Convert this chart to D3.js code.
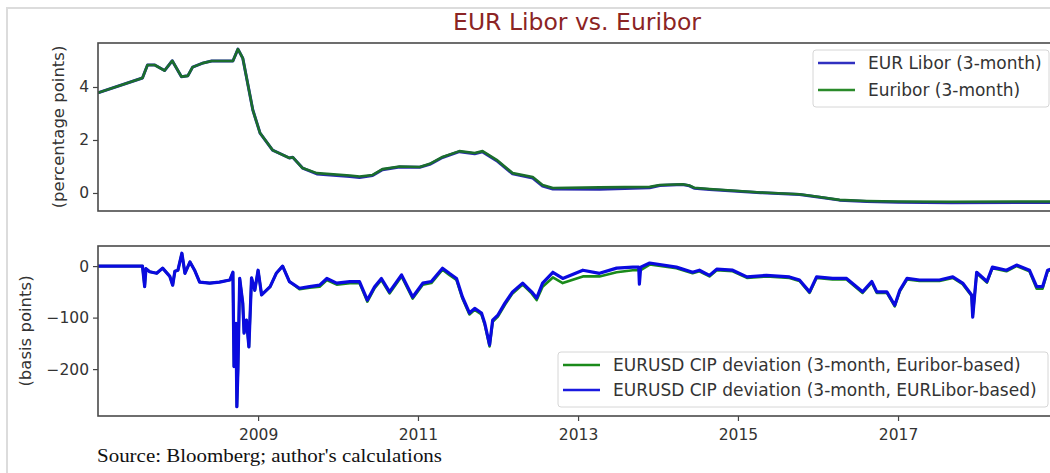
<!DOCTYPE html>
<html>
<head>
<meta charset="utf-8">
<script src="https://cdn.jsdelivr.net/npm/d3@7"></script>
<style>
  body { margin: 0; background: #fff; }
  svg { display: block; font-family: "DejaVu Sans", sans-serif; }
</style>
</head>
<body>
<div id="chart"></div>
<script>
// ---------------------------------------------------------------
// Data
const topDates = ["2007-01-01","2007-07-23","2007-08-15","2007-09-17","2007-11-01","2007-12-06",
  "2008-01-17","2008-02-15","2008-03-08","2008-04-23","2008-06-03","2008-09-08","2008-10-01",
  "2008-10-23","2008-12-08","2009-01-10","2009-03-08","2009-05-24","2009-06-08","2009-07-23",
  "2009-09-26","2010-02-24","2010-04-09","2010-06-08","2010-07-23","2010-10-09","2011-01-09",
  "2011-02-24","2011-04-23","2011-07-09","2011-09-17","2011-10-23","2011-12-26","2012-03-08",
  "2012-06-08","2012-07-23","2012-09-08","2013-04-09","2013-11-24","2014-01-09","2014-04-23",
  "2014-05-24","2014-06-15","2014-08-24","2015-04-15","2015-10-09","2016-01-09","2016-04-09",
  "2016-08-11","2017-01-01","2017-09-01","2018-12-05"];
const euribor = [3.78,4.34,4.83,4.83,4.62,4.99,4.39,4.42,4.75,4.90,4.98,4.98,5.43,
  5.09,3.13,2.26,1.62,1.32,1.35,0.94,0.75,0.66,0.62,0.68,0.90,1.00,0.98,
  1.10,1.36,1.58,1.51,1.58,1.25,0.75,0.60,0.30,0.19,0.21,0.23,0.30,0.33,
  0.28,0.20,0.15,0.02,-0.05,-0.15,-0.26,-0.30,-0.32,-0.33,-0.32];
const libor = [3.78,4.34,4.83,4.83,4.62,4.99,4.39,4.42,4.75,4.90,4.98,4.98,5.43,
  5.09,3.13,2.26,1.62,1.32,1.35,0.94,0.72,0.62,0.58,0.66,0.88,0.98,0.97,
  1.08,1.34,1.56,1.48,1.55,1.22,0.72,0.56,0.26,0.15,0.14,0.20,0.28,0.32,
  0.27,0.18,0.13,0.01,-0.06,-0.16,-0.27,-0.32,-0.35,-0.37,-0.36];

const cipDates = ["2007-01-01","2007-07-23","2007-08-02","2007-08-08","2007-08-25","2007-09-26",
  "2007-10-23","2007-11-25","2007-12-08","2007-12-18","2008-01-01","2008-01-19","2008-02-02",
  "2008-02-25","2008-03-17","2008-04-09","2008-05-25","2008-07-09","2008-08-25","2008-09-08",
  "2008-09-13","2008-09-22","2008-09-26","2008-10-01","2008-10-09","2008-10-23","2008-10-29",
  "2008-11-09","2008-11-20","2008-12-02","2008-12-17","2009-01-01","2009-01-17","2009-02-25",
  "2009-03-25","2009-04-23","2009-05-24","2009-07-09","2009-08-24","2009-10-09","2009-11-11",
  "2009-12-26","2010-02-24","2010-04-09","2010-05-15","2010-06-17","2010-07-18","2010-08-24",
  "2010-10-18","2010-12-08","2011-01-23","2011-03-03","2011-04-23","2011-05-24","2011-06-26",
  "2011-07-23","2011-08-24","2011-09-17","2011-10-18","2011-11-02","2011-11-24","2011-12-08",
  "2012-01-01","2012-02-02","2012-03-08","2012-04-23","2012-06-03","2012-06-26","2012-07-23",
  "2012-09-08","2012-10-23","2013-01-23","2013-04-09","2013-06-26","2013-09-08","2013-10-05",
  "2013-10-08","2013-10-14","2013-11-24","2014-03-26","2014-06-08","2014-07-09","2014-08-24",
  "2014-09-26","2014-12-08","2015-02-11","2015-05-11","2015-08-24","2015-10-09","2015-11-24",
  "2015-12-26","2016-03-08","2016-05-11","2016-07-23","2016-09-03","2016-09-26","2016-11-11",
  "2016-12-17","2017-01-09","2017-02-11","2017-04-09","2017-07-09","2017-09-08","2017-10-23",
  "2017-12-03","2017-12-08","2017-12-26","2018-02-11","2018-03-08","2018-05-11","2018-06-26",
  "2018-08-24","2018-09-26","2018-10-23","2018-11-15","2018-12-05"];
const cipLibor = [0,0,-40,-5,-11,-14,
  -4,-20,-37,-10,-8,25,-14,
  8,-8,-31,-33,-31,-27,-12,
  -195,-111,-273,-200,-24,-72,-130,
  -105,-157,-23,-47,-8,-56,-40,
  -14,0,-30,-43,-40,-37,-24,
  -33,-30,-30,-66,-40,-24,-50,
  -17,-60,-33,-30,-4,-14,-24,
  -60,-91,-82,-91,-111,-153,-105,
  -95,-72,-50,-33,-50,-62,-33,
  -12,-24,-8,-14,-4,-2,-2,
  -35,-2,6,-2,-12,-8,-18,
  -6,-8,-21,-18,-21,-27,-50,
  -21,-24,-24,-50,-30,-50,-50,
  -76,-47,-24,-27,-27,-21,-33,
  -56,-99,-12,-30,-2,-8,2,
  -8,-40,-40,-8,-5];
const cipEuribor = [0,0,-40,-5,-11,-14,
  -4,-20,-37,-10,-8,25,-14,
  8,-8,-31,-33,-31,-27,-12,
  -195,-111,-273,-200,-24,-72,-130,
  -105,-157,-23,-47,-8,-56,-40,
  -14,0,-30,-45,-42,-40,-27,
  -36,-33,-33,-69,-43,-27,-53,
  -20,-63,-36,-33,-7,-17,-27,
  -63,-94,-85,-94,-114,-156,-108,
  -98,-75,-53,-36,-53,-66,-40,
  -22,-33,-20,-20,-12,-8,-8,
  -8,-8,3,-4,-14,-10,-20,
  -8,-10,-23,-20,-23,-29,-52,
  -23,-26,-26,-52,-32,-52,-52,
  -78,-49,-26,-29,-29,-23,-35,
  -58,-96,-14,-32,-4,-10,0,
  -10,-44,-44,-10,-7];

const yearTicks = [2009, 2011, 2013, 2015, 2017];

// ---------------------------------------------------------------
// SVG setup
const width = 1050, height = 473;
const svg = d3.select('#chart').append('svg')
  .attr('width', width)
  .attr('height', height);

// light figure frame
svg.append('rect')
  .attr('x', 7).attr('y', 8)
  .attr('width', width + 10).attr('height', height + 10)
  .attr('fill', 'none').attr('stroke', '#dcdcdc').attr('stroke-width', 2);

const parse = d3.timeParse('%Y-%m-%d');
const left = 98, right = 1052;

const x = d3.scaleTime()
  .domain([parse('2007-01-01'), parse('2018-12-05')])
  .range([left, right]);

const topPanel = { top: 43, bottom: 211 };
const botPanel = { top: 246, bottom: 416 };

const yTop = d3.scaleLinear().domain([-0.68, 5.66]).range([topPanel.bottom, topPanel.top]);
const yBot = d3.scaleLinear().domain([-291, 39]).range([botPanel.bottom, botPanel.top]);

const blue = '#0a0adf', green = '#1a8a1a';
const tickFont = 15.5, labelFont = 16.5, legendFont = 17;

// clip paths
[['clipTop', topPanel], ['clipBot', botPanel]].forEach(function (c) {
  svg.append('clipPath').attr('id', c[0])
    .append('rect')
    .attr('x', left).attr('y', c[1].top)
    .attr('width', right - left).attr('height', c[1].bottom - c[1].top);
});

function series(dates, vals) {
  return dates.map(function (d, i) { return { date: parse(d), v: vals[i] }; });
}

function styleAxis(g) {
  g.select('.domain').remove();
  g.selectAll('text').attr('font-size', tickFont).attr('fill', '#333')
    .attr('font-family', '"DejaVu Sans", sans-serif');
  g.selectAll('line').attr('stroke', '#444').attr('stroke-width', 1.2);
}

// ---------------------------------------------------------------
// Title
svg.append('text')
  .attr('x', 577).attr('y', 30)
  .attr('text-anchor', 'middle')
  .attr('font-size', 23.5)
  .attr('fill', '#8b2424')
  .text('EUR Libor vs. Euribor');

// ---------------------------------------------------------------
// Top panel
const lineTop = d3.line().x(d => x(d.date)).y(d => yTop(d.v));
const gTop = svg.append('g').attr('clip-path', 'url(#clipTop)');
gTop.append('path').datum(series(topDates, libor))
  .attr('d', lineTop).attr('fill', 'none')
  .attr('stroke', '#2a2ab0').attr('stroke-width', 3).attr('stroke-linejoin', 'round');
gTop.append('path').datum(series(topDates, euribor))
  .attr('d', lineTop).attr('fill', 'none')
  .attr('stroke', '#1b6e2c').attr('stroke-width', 2.6).attr('stroke-linejoin', 'round');

svg.append('g')
  .attr('transform', 'translate(' + left + ',0)')
  .call(d3.axisLeft(yTop).tickValues([0, 2, 4]).tickFormat(d3.format('d')).tickSize(5).tickPadding(4))
  .call(styleAxis);

svg.append('rect')
  .attr('x', left).attr('y', topPanel.top)
  .attr('width', right - left).attr('height', topPanel.bottom - topPanel.top)
  .attr('fill', 'none').attr('stroke', '#4a4a4a').attr('stroke-width', 1.6);

svg.append('text')
  .attr('transform', 'translate(64,' + (topPanel.top + topPanel.bottom) / 2 + ') rotate(-90)')
  .attr('text-anchor', 'middle')
  .attr('font-size', labelFont).attr('fill', '#333')
  .text('(percentage points)');

// ---------------------------------------------------------------
// Bottom panel
const lineBot = d3.line().x(d => x(d.date)).y(d => yBot(d.v));
const gBot = svg.append('g').attr('clip-path', 'url(#clipBot)');
gBot.append('path').datum(series(cipDates, cipEuribor))
  .attr('d', lineBot).attr('fill', 'none')
  .attr('stroke', green).attr('stroke-width', 2.6).attr('stroke-linejoin', 'round');
gBot.append('path').datum(series(cipDates, cipLibor))
  .attr('d', lineBot).attr('fill', 'none')
  .attr('stroke', blue).attr('stroke-width', 3.2).attr('stroke-linejoin', 'round');

svg.append('g')
  .attr('transform', 'translate(' + left + ',0)')
  .call(d3.axisLeft(yBot).tickValues([-200, -100, 0]).tickSize(5).tickPadding(4))
  .call(styleAxis);

svg.append('g')
  .attr('transform', 'translate(0,' + botPanel.bottom + ')')
  .call(d3.axisBottom(x)
    .tickValues(yearTicks.map(yr => new Date(yr, 0, 1)))
    .tickFormat(d3.timeFormat('%Y'))
    .tickSize(5).tickPadding(8))
  .call(styleAxis);

svg.append('rect')
  .attr('x', left).attr('y', botPanel.top)
  .attr('width', right - left).attr('height', botPanel.bottom - botPanel.top)
  .attr('fill', 'none').attr('stroke', '#4a4a4a').attr('stroke-width', 1.6);

svg.append('text')
  .attr('transform', 'translate(31,' + (botPanel.top + botPanel.bottom) / 2 + ') rotate(-90)')
  .attr('text-anchor', 'middle')
  .attr('font-size', labelFont).attr('fill', '#333')
  .text('(basis points)');

// ---------------------------------------------------------------
// Legends
function legend(x0, y0, w, h, gap, rows) {
  const g = svg.append('g');
  g.append('rect')
    .attr('x', x0).attr('y', y0).attr('width', w).attr('height', h).attr('rx', 3)
    .attr('fill', 'rgba(255,255,255,0.85)').attr('stroke', '#d6d6d6').attr('stroke-width', 1);
  rows.forEach(function (r, i) {
    const yy = y0 + 13 + i * gap;
    g.append('line')
      .attr('x1', x0 + 5).attr('x2', x0 + 42).attr('y1', yy).attr('y2', yy)
      .attr('stroke', r.color).attr('stroke-width', 2.4);
    g.append('text')
      .attr('x', x0 + 55).attr('y', yy + 6)
      .attr('font-size', legendFont).attr('fill', '#333')
      .text(r.label);
  });
}

legend(813, 50, 236, 57, 27, [
  { label: 'EUR Libor (3-month)', color: '#3030c0' },
  { label: 'Euribor (3-month)', color: '#2a8a2a' }
]);
legend(558, 352, 490, 55, 25, [
  { label: 'EURUSD CIP deviation (3-month, Euribor-based)', color: green },
  { label: 'EURUSD CIP deviation (3-month, EURLibor-based)', color: '#1a1ae0' }
]);

// ---------------------------------------------------------------
// Source note
svg.append('text')
  .attr('x', 97).attr('y', 462)
  .attr('font-family', '"Liberation Serif", "Times New Roman", serif')
  .attr('font-size', 19)
  .attr('textLength', 345).attr('lengthAdjust', 'spacingAndGlyphs')
  .attr('fill', '#111')
  .text("Source: Bloomberg; author's calculations");
</script>
</body>
</html>
